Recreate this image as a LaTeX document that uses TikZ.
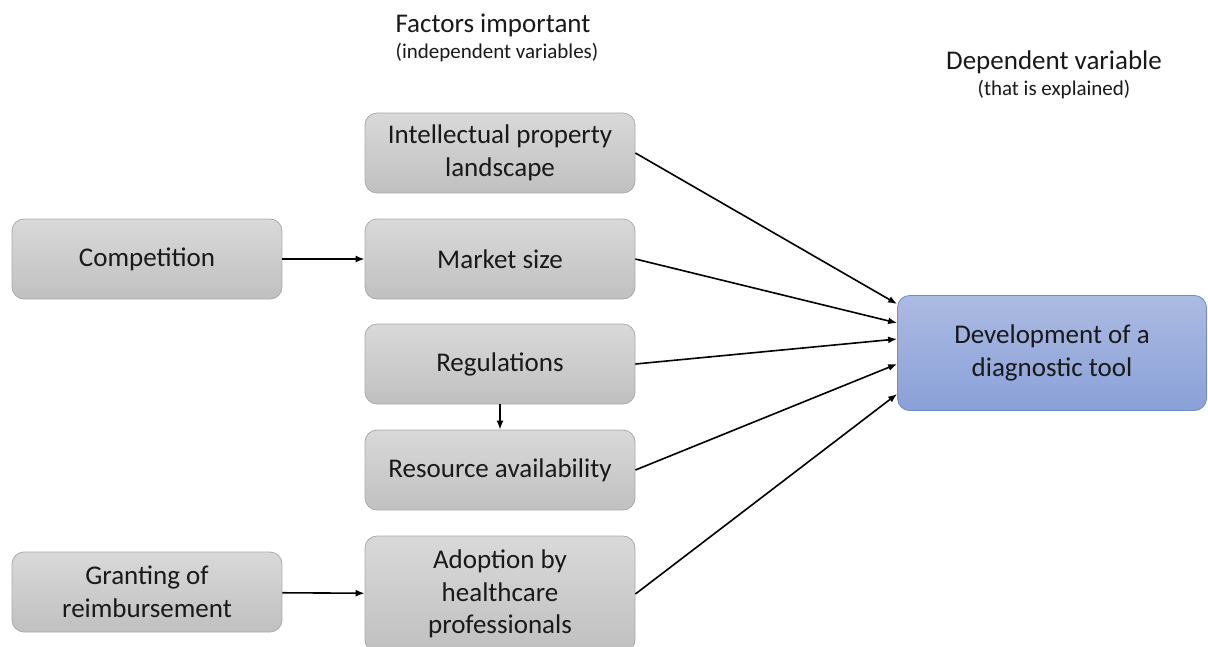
\documentclass[tikz,border=0pt]{standalone}
\usepackage{fontspec}
\setmainfont{Carlito}
\usetikzlibrary{positioning, arrows.meta}

\definecolor{boxtop}{RGB}{217,217,217}
\definecolor{boxbot}{RGB}{192,192,192}
\definecolor{boxline}{RGB}{170,170,170}
\definecolor{goaltop}{RGB}{172,187,226}
\definecolor{goalbot}{RGB}{137,160,216}
\definecolor{goalline}{RGB}{108,142,208}

\tikzset{
  factor/.style={draw=boxline, line width=0.8pt, rounded corners=12pt,
    top color=boxtop, bottom color=boxbot,
    minimum width=270pt, minimum height=80pt, align=center,
    text=black!90, font=\fontsize{27}{32.5}\selectfont},
  goal/.style={factor, draw=goalline, top color=goaltop, bottom color=goalbot,
    minimum width=309pt, minimum height=115pt},
  head/.style={text=black!90, font=\fontsize{27}{30}\selectfont},
  subhead/.style={text=black!90, font=\fontsize{21}{25}\selectfont},
  link/.style={-{Latex[length=9pt,width=7pt]}, line width=1.6pt, black}
}

\begin{document}
\begin{tikzpicture}[x=1pt, y=-1pt, node distance=106pt, on grid]
    \useasboundingbox (0,0) rectangle (1208,646);

      \node[factor] (ip)                     at (500,153) {Intellectual property\\landscape};
      \node[factor] (market)      [below=of ip]           {Market size};
      \node[factor] (regs)        [below=105pt of market] {Regulations};
      \node[factor] (resources)   [below=of regs]         {Resource availability};
      \node[factor, minimum height=116pt] (adoption) [below=124pt of resources]
                                                          {Adoption by\\healthcare\\professionals};
      \node[factor] (competition) [left=353pt of market]  {Competition};
      \node[factor] (granting)    at (147,592)            {Granting of\\reimbursement};
      \node[goal]   (tool)                   at (1052,353) {Development of a\\diagnostic tool};

      \node[head]    (factors)   at (493,25)  {Factors important};
      \node[subhead] (factorsub) at (497,53)  {(independent variables)};
      \node[head]    (dependent) at (1054,62) {Dependent variable};
      \node[subhead] (depsub)    at (1054,90) {(that is explained)};

      \path[link] (competition) edge (market)
                  (granting)    edge (adoption)
                  (regs)        edge (resources);
      \draw[link] (ip.east)        -- ([yshift=49pt]tool.west);
      \draw[link] (market.east)    -- ([yshift=30pt]tool.west);
      \draw[link] (regs.east)      -- ([yshift=14pt]tool.west);
      \draw[link] (resources.east) -- ([yshift=-11pt]tool.west);
      \draw[link] (adoption.east)  -- ([yshift=-41pt]tool.west);
    \end{tikzpicture}
\end{document}
